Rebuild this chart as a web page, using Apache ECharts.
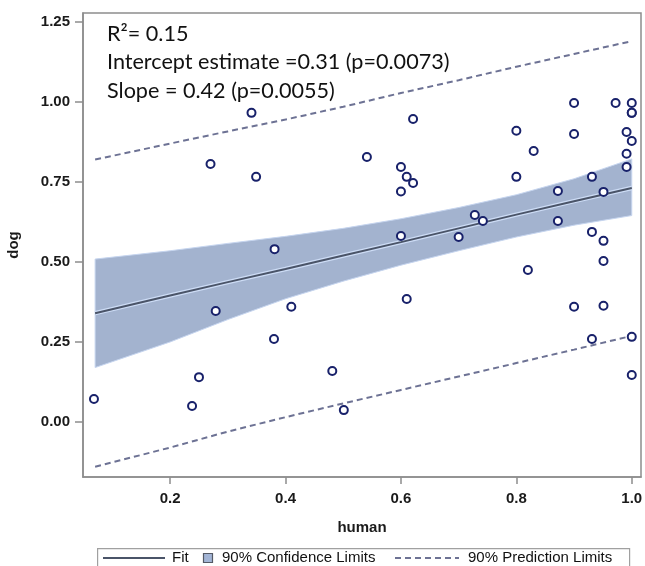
<!DOCTYPE html>
<html>
<head>
<meta charset="utf-8">
<script src="https://cdn.jsdelivr.net/npm/echarts@6/dist/echarts.min.js"></script>
<style>
html,body{margin:0;padding:0;background:#fff;}
#chart{width:645px;height:566px;}
</style>
</head>
<body>
<div id="chart"></div>
<script>
// Observations (human, dog)
const humanVals = [0.068,0.238,0.250,0.279,0.380,0.410,0.270,0.341,0.349,0.381,0.481,0.501,0.541,0.621,0.600,0.610,0.621,0.600,0.600,0.610,0.700,0.728,0.742,0.800,0.800,0.830,0.820,0.872,0.872,0.900,0.900,0.900,0.931,0.931,0.951,0.951,0.951,0.951,0.931,0.972,1.000,1.000,1.000,0.991,1.000,0.991,0.991,1.000,1.000];
const dogVals   = [0.072,0.050,0.140,0.347,0.259,0.360,0.806,0.966,0.766,0.540,0.159,0.037,0.828,0.947,0.797,0.766,0.747,0.720,0.581,0.384,0.578,0.647,0.628,0.910,0.766,0.847,0.475,0.722,0.628,0.997,0.900,0.360,0.766,0.594,0.719,0.566,0.503,0.363,0.259,0.997,0.997,0.966,0.966,0.906,0.878,0.838,0.797,0.266,0.147];

// Fit and limits read at these human values
const bandX     = [0.07, 0.2, 0.3, 0.4, 0.5, 0.6, 0.7, 0.8, 0.9, 1.0];
const fitVals   = [0.340,0.395,0.437,0.478,0.520,0.562,0.605,0.648,0.690,0.731];
const confLower = [0.170,0.250,0.320,0.385,0.440,0.490,0.535,0.578,0.615,0.645];
const confUpper = [0.509,0.535,0.558,0.580,0.605,0.635,0.670,0.710,0.760,0.822];
const predLower = [-0.140,-0.080,-0.030,0.015,0.058,0.100,0.142,0.184,0.226,0.269];
const predUpper = [0.820,0.870,0.908,0.945,0.985,1.028,1.068,1.110,1.150,1.190];

const xTicks = [0.2, 0.4, 0.6, 0.8, 1.0];
const yTicks = [0.00, 0.25, 0.50, 0.75, 1.00, 1.25];

const annoLines = ['R\u00B2= 0.15', 'Intercept estimate =0.31 (p=0.0073)', 'Slope = 0.42 (p=0.0055)'];
const legendNames = ['Fit', '90% Confidence Limits', '90% Prediction Limits'];

const pts = humanVals.map((h,i)=>[h, dogVals[i]]);
const pair = (arr)=>bandX.map((x,i)=>[x, arr[i]]);
const bandData = bandX.map((x,i)=>[x, confLower[i], confUpper[i]]);

const frameColor = '#8d8d8d';
const fitColor = '#4a5468';
const predColor = '#6d7294';
const bandColor = '#a3b3cf';
const FONT = 'Liberation Sans, Arial, sans-serif';
const tickFont = {fontFamily:FONT, fontSize:15, fontWeight:'bold', color:'#1a1a1a'};
const legFont = '15px "Liberation Sans", Arial, sans-serif';

const chart = echarts.init(document.getElementById('chart'), null, {renderer:'canvas'});
chart.setOption({
  animation:false,
  backgroundColor:'#fff',
  grid:{left:83, right:4, top:13, bottom:89, show:true, borderColor:frameColor, borderWidth:1.5,
        backgroundColor:'#fff', containLabel:false, outerBoundsMode:'none'},
  xAxis:{
    type:'value', min:0.049, max:1.016,
    name:'human', nameLocation:'middle', nameGap:43,
    nameTextStyle:{fontFamily:FONT, fontSize:15, fontWeight:'bold', color:'#1a1a1a'},
    axisLine:{show:true, onZero:false, lineStyle:{color:frameColor, width:1.5}},
    axisTick:{show:true, length:7, customValues:xTicks, lineStyle:{color:frameColor, width:1.5}},
    axisLabel:Object.assign({customValues:xTicks, margin:14, formatter:v=>v.toFixed(1)}, tickFont),
    splitLine:{show:false}
  },
  yAxis:{
    type:'value', min:-0.172, max:1.278,
    name:'dog', nameLocation:'middle', nameGap:62,
    nameTextStyle:{fontFamily:FONT, fontSize:15, fontWeight:'bold', color:'#1a1a1a'},
    axisLine:{show:true, onZero:false, lineStyle:{color:frameColor, width:1.5}},
    axisTick:{show:true, length:8, customValues:yTicks, lineStyle:{color:frameColor, width:1.5}},
    axisLabel:Object.assign({customValues:yTicks, margin:13, formatter:v=>v.toFixed(2)}, tickFont),
    splitLine:{show:false}
  },
  graphic:[
    // legend box and entries
    {type:'rect', left:97, top:548, shape:{width:532, height:30}, style:{fill:'#fff', stroke:'#a0a0a0', lineWidth:1.2}, z:10},
    {type:'line', shape:{x1:103, y1:558, x2:165, y2:558}, style:{stroke:fitColor, lineWidth:2}, z:11},
    {type:'text', x:172, y:558, style:{text:legendNames[0], font:legFont, fill:'#111', verticalAlign:'middle'}, z:11},
    {type:'rect', shape:{x:203.5, y:553.5, width:9, height:9}, style:{fill:'#a3b5d6', stroke:'#555a66', lineWidth:1.2}, z:11},
    {type:'text', x:222, y:558, style:{text:legendNames[1], font:legFont, fill:'#111', verticalAlign:'middle'}, z:11},
    {type:'line', shape:{x1:395, y1:558, x2:459, y2:558}, style:{stroke:predColor, lineWidth:2, lineDash:[6,4]}, z:11},
    {type:'text', x:468, y:558, style:{text:legendNames[2], font:legFont, fill:'#111', verticalAlign:'middle'}, z:11},
    // annotation
    {type:'text', left:107, top:23, style:{text:annoLines[0], font:'21.6px Lato, sans-serif', fill:'#111'}, z:11},
    {type:'text', left:107, top:51, style:{text:annoLines[1], font:'21.6px Lato, sans-serif', fill:'#111'}, z:11},
    {type:'text', left:107, top:80, style:{text:annoLines[2], font:'21.6px Lato, sans-serif', fill:'#111'}, z:11}
  ],
  series:[
    {name:'90% Confidence Limits', type:'custom', data:bandData, silent:true, z:1,
     itemStyle:{color:bandColor},
     encode:{x:0, y:[1,2]},
     renderItem:function(params, api){
       if (params.dataIndex !== 0) return null;
       const up = [], lo = [];
       for (let i=0;i<bandX.length;i++){
         up.push(api.coord([bandX[i], confUpper[i]]));
         lo.push(api.coord([bandX[i], confLower[i]]));
       }
       const poly = up.concat(lo.slice().reverse());
       return {type:'polygon', shape:{points:poly}, style:{fill:bandColor, stroke:'#c6d5ef', lineWidth:1}};
     }},
    {name:'fitGlow', type:'line', data:pair(fitVals), symbol:'none', silent:true,
     lineStyle:{color:'#cddcf5', width:4.5}, z:2},
    {name:'Fit', type:'line', data:pair(fitVals), symbol:'none',
     lineStyle:{color:fitColor, width:2}, z:3},
    {name:'90% Prediction Limits', type:'line', data:pair(predUpper), symbol:'none',
     lineStyle:{color:predColor, width:2, type:[6,4]}, z:3},
    {name:'90% Prediction Limits', type:'line', data:pair(predLower), symbol:'none',
     lineStyle:{color:predColor, width:2, type:[6,4]}, z:3},
    {name:'obs', type:'scatter', data:pts, symbol:'circle', symbolSize:8,
     itemStyle:{color:'#ffffff', borderColor:'#18216a', borderWidth:2, opacity:1}, z:5}
  ]
});
</script>
</body>
</html>
